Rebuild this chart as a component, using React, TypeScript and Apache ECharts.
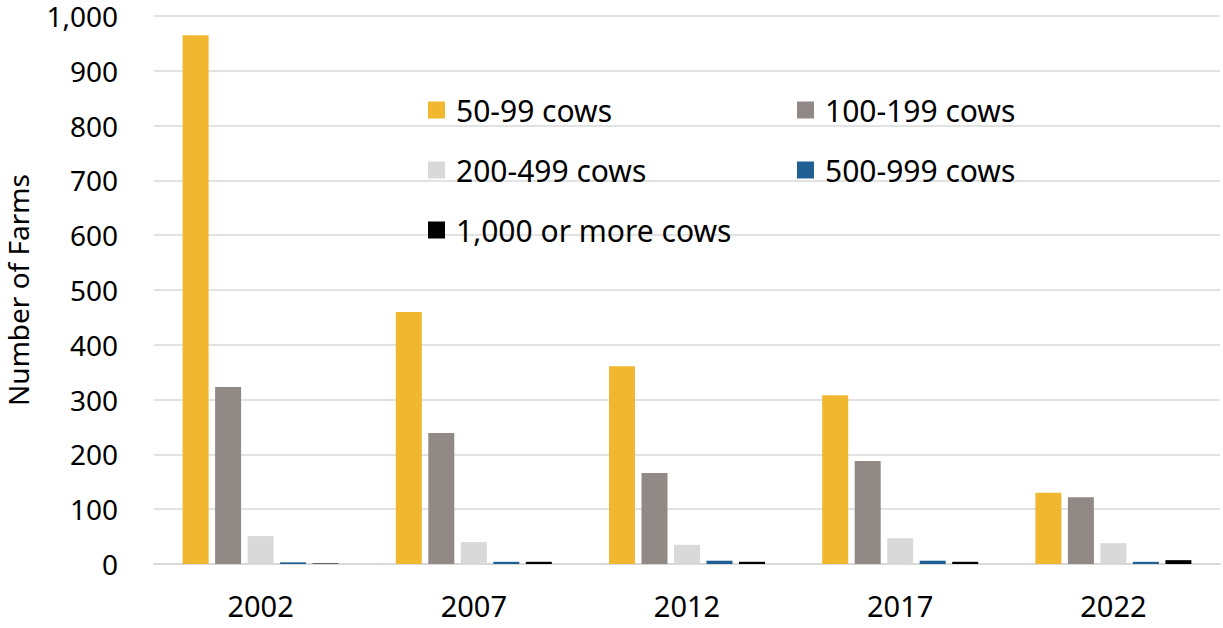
import React, { useEffect, useRef } from "react";
import * as echarts from "echarts";

const years = ["2002", "2007", "2012", "2017", "2022"];
const cows50_99 = [965, 460, 361, 308, 130];
const cows100_199 = [323, 239, 166, 188, 122];
const cows200_499 = [51, 40, 35, 47, 38];
const cows500_999 = [3, 4, 6, 6, 4];
const cows1000plus = [1, 4, 4, 4, 7];
const seriesNames = ["50-99 cows", "100-199 cows", "200-499 cows", "500-999 cows", "1,000 or more cows"];
const colors = ["#F0B72F", "#918985", "#D9D9D9", "#1F5F94", "#000000"];

const FONT = "'Noto Sans', 'Open Sans', sans-serif";

export default function App() {
  const ref = useRef<HTMLDivElement>(null);
  useEffect(() => {
    if (!ref.current) return;
    const chart = echarts.init(ref.current, undefined, { renderer: "svg" });
    const data = [cows50_99, cows100_199, cows200_499, cows500_999, cows1000plus];
    const legendCommon = {
      orient: "vertical" as const,
      itemWidth: 17,
      itemHeight: 17,
      itemGap: 30,
      icon: "rect",
      textStyle: { fontSize: 30, fontFamily: FONT, color: "#000", padding: [0, 0, 0, 6] },
      selectedMode: false,
    };
    chart.setOption({
      animation: false,
      color: colors,
      grid: { left: 154, right: 3, top: 16, bottom: 64, containLabel: false, outerBoundsMode: "none" },
      legend: [
        { ...legendCommon, left: 423, top: 90, data: [seriesNames[0], seriesNames[2], seriesNames[4]] },
        { ...legendCommon, left: 792, top: 90, data: [seriesNames[1], seriesNames[3]] },
      ],
      xAxis: {
        type: "category",
        data: years,
        axisLine: { lineStyle: { color: "#d9d9d9", width: 2 } },
        axisTick: { show: false },
        axisLabel: { fontSize: 29, fontFamily: FONT, color: "#000", margin: 27 },
      },
      yAxis: {
        type: "value",
        min: 0,
        max: 1000,
        interval: 100,
        name: "Number of Farms",
        nameLocation: "middle",
        nameGap: 122,
        nameTextStyle: { fontSize: 28, fontFamily: FONT, color: "#000" },
        axisLine: { show: false },
        axisTick: { show: false },
        splitLine: { lineStyle: { color: "#d9d9d9", width: 1.5 } },
        axisLabel: {
          fontSize: 28,
          fontFamily: FONT,
          color: "#000",
          margin: 36,
          formatter: (v: number) => v.toLocaleString("en-US"),
        },
      },
      series: data.map((d, i) => ({
        name: seriesNames[i],
        type: "bar",
        data: d,
        barWidth: 26,
        barGap: "25%",
        itemStyle: { color: colors[i] },
      })),
    });
    return () => chart.dispose();
  }, []);
  return <div ref={ref} style={{ width: 1223, height: 628, position: "absolute", left: 0, top: 0 }} />;
}
